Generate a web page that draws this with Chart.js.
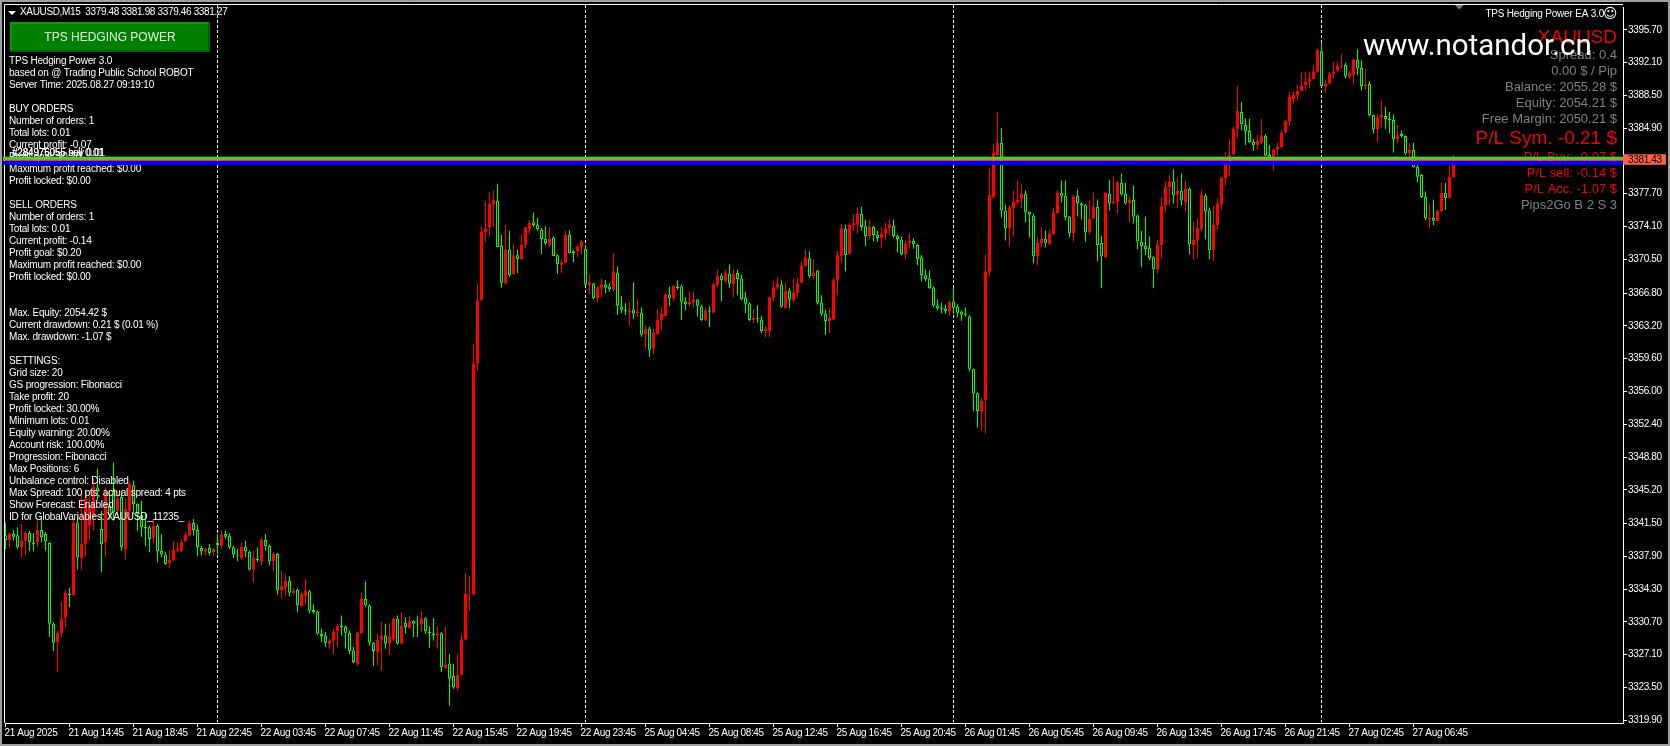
<!DOCTYPE html>
<html>
<head>
<meta charset="utf-8">
<title>XAUUSD,M15</title>
<style>
  html, body { margin: 0; padding: 0; background: #000; overflow: hidden; }
  #wrap { position: relative; width: 1670px; height: 746px; background: #000; }
  #frame { position: absolute; left: 0; top: 0; width: 1666px; height: 742px; border: 2px solid #a0a0a0; pointer-events: none; }
</style>
<script src="https://cdn.jsdelivr.net/npm/chart.js@4/dist/chart.umd.min.js"></script>
</head>
<body>
<div id="wrap">
  <canvas id="chart" width="1670" height="746"></canvas>
  <div id="frame"></div>
</div>
<script>
// Bougies M15, une valeur par barre
const opens = [
  3340.2,3339.7,3340.35,3340.2,3338.9,3339.6,3340.45,3339.4,3339.45,3340.8,
  3340.35,3339.35,3330.5,3328.5,3329.45,3331.15,3333.8,3333.6,3341.6,3337.7,
  3339.25,3341.28,3342.2,3345.45,3340.9,3339.45,3343.47,3345.1,3342.9,3344.4,
  3338.7,3342.9,3345.7,3343.65,3342.45,3341.15,3341.1,3339.9,3341.25,3338.5,
  3338.1,3337.15,3337.45,3338.5,3338.5,3339.55,3340.15,3341.55,3340.8,3338.8,
  3338.4,3338.8,3338.35,3339.35,3339.05,3340.35,3340.15,3338.9,3338.1,3337.7,
  3338.95,3338.4,3336.45,3337.6,3337.35,3339.7,3339.05,3337.35,3338.15,3334.15,
  3334.45,3335.25,3333.85,3334.2,3332.4,3333.5,3334.05,3332.0,3331.85,3329.4,
  3329.2,3328.3,3328.65,3329.7,3330.3,3330.2,3329.5,3327.55,3326.05,3329.45,
  3333.2,3332.5,3328.4,3327.4,3328.75,3329.2,3328.3,3328.75,3331.05,3328.3,
  3330.6,3330.0,3330.8,3330.5,3330.4,3331.1,3329.6,3329.4,3329.2,3329.45,
  3325.6,3326.1,3324.75,3323.4,3324.9,3328.75,3333.65,3333.7,3359.05,3365.98,
  3373.5,3374.05,3376.5,3376.93,3372.04,3367.84,3371.57,3368.9,3370.94,3370.5,
  3372.08,3373.83,3374.56,3374.3,3373.75,3372.77,3372.11,3372.91,3370.94,3369.85,
  3370.1,3373.2,3371.38,3371.38,3371.82,3371.67,3367.66,3367.84,3366.24,3367.26,
  3367.73,3367.51,3367.22,3369.05,3365.32,3365.0,3364.67,3365.0,3364.6,3364.67,
  3362.22,3362.92,3360.69,3362.3,3363.83,3364.27,3366.64,3366.24,3367.48,3367.51,
  3365.91,3365.58,3365.8,3366.09,3365.36,3363.83,3364.89,3364.63,3367.66,3368.72,
  3368.1,3368.94,3367.77,3369.01,3368.39,3366.31,3365.65,3363.83,3364.05,3363.9,
  3362.62,3362.62,3366.27,3367.44,3367.73,3365.14,3367.08,3366.02,3366.82,3367.92,
  3369.74,3370.58,3368.61,3369.27,3365.76,3364.56,3363.72,3363.94,3368.21,3370.83,
  3373.86,3371.05,3374.23,3374.3,3375.5,3374.12,3373.06,3374.08,3373.2,3372.81,
  3373.24,3373.9,3374.19,3373.1,3372.66,3371.05,3372.26,3372.55,3372.11,3370.73,
  3368.75,3368.39,3367.4,3365.43,3365.21,3365.1,3364.81,3365.87,3365.32,3364.77,
  3364.56,3364.23,3358.43,3355.8,3353.75,3355.0,3369.08,3377.29,3381.89,3383.31,
  3375.87,3373.9,3376.09,3376.74,3377.07,3377.69,3375.72,3375.28,3370.83,3372.26,
  3372.77,3372.15,3373.24,3375.54,3377.8,3377.47,3375.21,3373.35,3377.47,3376.63,
  3376.49,3373.46,3374.99,3376.27,3372.33,3370.72,3377.69,3376.63,3376.74,3378.9,
  3377.69,3376.63,3377.04,3375.32,3372.44,3372.0,3371.78,3370.72,3369.41,3372.04,
  3376.41,3378.39,3379.04,3377.58,3378.02,3376.74,3378.24,3372.04,3372.58,3373.79,
  3377.51,3375.87,3371.49,3374.23,3376.52,3379.37,3380.79,3382.0,3384.81,3386.67,
  3385.25,3384.59,3383.39,3383.02,3383.31,3384.04,3381.96,3381.53,3382.55,3382.84,
  3384.41,3385.61,3388.09,3388.46,3388.97,3389.63,3389.99,3390.28,3391.09,3393.35,
  3389.44,3389.77,3390.87,3391.2,3391.63,3391.82,3390.54,3390.76,3392.4,3391.49,
  3389.44,3389.74,3386.34,3384.74,3386.05,3386.23,3385.94,3385.8,3383.68,3384.26,
  3384.04,3382.11,3382.51,3380.65,3379.77,3377.37,3374.88,3375.07,3374.7,3375.76,
  3377.8,3377.22,3379.48
];
const highs = [
  3341.6,3340.5,3340.8,3341.1,3341.45,3340.65,3340.7,3340.45,3341.8,3342.2,
  3340.55,3339.45,3330.7,3329.75,3332.85,3334.2,3334.45,3342.05,3342.35,3345.1,
  3345.1,3344.56,3346.4,3347.5,3342.9,3345.45,3345.11,3348.2,3345.1,3345.1,
  3344.2,3346.2,3346.2,3343.7,3344.0,3342.55,3341.25,3342.0,3341.45,3340.3,
  3338.35,3338.5,3339.55,3339.45,3339.7,3340.55,3341.8,3342.0,3341.35,3339.05,
  3338.8,3339.25,3338.8,3340.35,3340.7,3340.7,3340.45,3339.05,3338.7,3339.45,
  3339.6,3338.5,3338.5,3338.9,3339.9,3340.35,3339.2,3338.35,3338.25,3336.35,
  3335.9,3335.7,3334.45,3334.35,3334.0,3335.4,3334.2,3332.6,3331.95,3329.95,
  3329.6,3328.85,3329.95,3330.5,3331.4,3330.3,3329.75,3327.95,3329.6,3333.95,
  3335.15,3332.6,3328.5,3329.4,3330.7,3330.5,3330.55,3331.2,3331.4,3331.75,
  3331.2,3331.4,3330.85,3331.4,3331.85,3331.2,3330.2,3331.15,3330.2,3329.6,
  3330.15,3327.2,3326.1,3327.15,3329.35,3336.1,3335.7,3361.2,3367.73,3374.12,
  3376.85,3377.84,3378.06,3378.79,3373.2,3374.3,3373.64,3372.22,3371.57,3373.2,
  3374.05,3374.85,3375.65,3375.1,3373.94,3374.12,3374.01,3373.02,3371.02,3370.5,
  3373.64,3373.68,3371.49,3372.04,3372.59,3372.04,3368.83,3367.92,3367.55,3368.39,
  3368.24,3367.88,3371.16,3369.7,3366.46,3365.69,3365.8,3367.99,3366.09,3365.25,
  3363.28,3363.1,3362.92,3365.0,3365.25,3366.82,3367.51,3367.66,3368.21,3367.73,
  3366.35,3367.0,3366.97,3366.13,3365.54,3365.18,3365.36,3367.88,3369.41,3368.97,
  3369.37,3369.92,3369.37,3369.37,3368.83,3366.89,3365.8,3365.0,3365.47,3364.34,
  3363.17,3366.38,3368.1,3368.54,3368.17,3367.95,3367.37,3368.39,3368.54,3370.29,
  3371.57,3371.38,3370.51,3369.3,3366.57,3365.0,3365.11,3368.46,3371.38,3374.37,
  3374.3,3374.45,3375.4,3376.2,3376.3,3374.85,3374.85,3374.19,3373.64,3374.01,
  3374.48,3374.89,3374.85,3373.2,3373.02,3372.66,3373.35,3372.84,3372.19,3370.94,
  3369.37,3369.3,3367.55,3366.09,3365.8,3365.54,3366.0,3367.37,3365.54,3364.88,
  3365.25,3364.37,3358.5,3355.87,3355.32,3371.01,3380.5,3383.13,3386.6,3384.95,
  3376.49,3376.41,3378.02,3379.15,3378.79,3378.06,3375.76,3375.54,3373.02,3374.01,
  3373.68,3373.75,3376.2,3378.02,3379.15,3379.15,3375.28,3377.62,3378.17,3376.74,
  3376.6,3376.96,3377.84,3377.07,3373.09,3377.95,3379.22,3379.59,3379.12,3379.92,
  3378.93,3377.4,3378.6,3375.39,3373.64,3375.21,3373.02,3370.83,3372.69,3377.29,
  3379.04,3379.7,3380.36,3379.48,3379.92,3379.15,3378.39,3374.66,3374.99,3378.17,
  3377.73,3376.2,3376.41,3377.18,3379.59,3382.22,3383.64,3385.06,3389.55,3387.8,
  3385.98,3385.94,3383.72,3384.15,3385.9,3384.26,3383.06,3382.69,3383.28,3384.63,
  3385.76,3388.9,3388.9,3389.63,3390.98,3391.09,3391.16,3391.82,3393.64,3394.37,
  3390.28,3391.09,3392.18,3392.18,3393.02,3392.07,3391.16,3392.55,3393.57,3392.36,
  3391.41,3390.06,3386.38,3386.45,3387.98,3387.25,3386.71,3386.42,3385.28,3384.63,
  3384.08,3383.24,3383.31,3380.87,3379.85,3377.95,3376.67,3377.04,3375.94,3378.9,
  3378.9,3380.8,3381.98
];
const lows = [
  3338.7,3338.9,3339.6,3338.7,3337.8,3338.0,3338.45,3338.45,3338.9,3339.45,
  3338.5,3329.05,3327.5,3325.2,3329.05,3330.15,3332.3,3333.6,3336.45,3336.45,
  3337.85,3339.64,3340.7,3344.0,3336.15,3337.85,3341.93,3341.8,3342.4,3338.5,
  3337.55,3341.8,3342.6,3340.7,3340.05,3339.0,3338.35,3339.3,3337.25,3337.8,
  3337.0,3336.55,3337.35,3338.35,3338.35,3339.45,3340.15,3340.15,3337.9,3338.0,
  3338.0,3338.0,3338.0,3338.1,3338.7,3339.8,3338.7,3337.7,3337.35,3337.5,
  3337.8,3336.35,3335.05,3337.25,3336.9,3338.5,3336.9,3336.25,3333.7,3333.3,
  3333.5,3333.5,3333.7,3331.75,3332.4,3332.6,3331.65,3331.6,3329.3,3328.5,
  3327.95,3327.75,3327.15,3327.95,3329.2,3327.75,3327.15,3326.2,3325.9,3329.4,
  3332.3,3328.1,3325.85,3325.95,3325.3,3327.75,3327.05,3328.6,3328.2,3328.25,
  3329.4,3329.95,3329.05,3329.05,3329.6,3329.4,3327.85,3328.65,3327.75,3325.2,
  3325.55,3321.5,3323.35,3323.2,3324.85,3328.65,3331.9,3333.6,3358.25,3365.98,
  3372.4,3373.0,3374.12,3371.82,3367.37,3367.73,3368.54,3368.83,3369.0,3370.43,
  3371.75,3373.32,3374.05,3373.64,3371.09,3372.04,3371.82,3370.83,3368.9,3369.01,
  3370.07,3371.13,3370.18,3370.73,3371.02,3367.66,3366.64,3366.13,3365.8,3366.35,
  3366.78,3366.93,3367.0,3364.38,3364.6,3364.38,3363.28,3363.94,3364.16,3362.0,
  3360.69,3359.78,3360.11,3362.26,3362.81,3364.23,3365.36,3365.91,3367.15,3363.83,
  3364.92,3365.36,3365.18,3364.23,3363.72,3363.72,3363.06,3364.6,3367.44,3365.91,
  3367.92,3367.37,3366.35,3366.57,3366.02,3364.6,3363.72,3363.43,3363.54,3362.4,
  3361.97,3361.97,3365.91,3367.19,3365.18,3365.11,3365.11,3365.73,3366.27,3367.88,
  3369.7,3368.46,3368.28,3365.54,3364.27,3362.19,3362.4,3363.83,3366.57,3370.1,
  3369.19,3371.02,3373.57,3373.32,3373.64,3371.97,3372.66,3372.48,3372.4,3371.71,
  3372.59,3373.13,3372.91,3371.27,3370.94,3370.51,3371.71,3371.67,3369.85,3368.1,
  3368.1,3367.26,3365.25,3364.92,3364.59,3364.52,3364.26,3364.52,3364.15,3363.72,
  3364.19,3358.24,3353.86,3352.0,3351.67,3351.38,3368.64,3377.2,3381.78,3375.1,
  3372.58,3371.93,3373.02,3376.52,3376.09,3374.55,3372.91,3370.07,3369.85,3371.82,
  3371.82,3372.11,3373.2,3375.5,3376.74,3374.77,3372.91,3372.47,3375.21,3374.88,
  3372.47,3373.24,3374.88,3370.28,3367.33,3370.61,3375.87,3376.6,3375.54,3377.51,
  3376.52,3374.55,3374.44,3371.6,3369.63,3370.94,3370.39,3367.33,3368.97,3370.61,
  3375.76,3376.41,3376.63,3376.09,3376.41,3375.65,3371.05,3370.5,3370.72,3373.57,
  3372.69,3370.5,3370.28,3373.68,3375.98,3378.6,3379.59,3381.89,3383.86,3384.7,
  3383.06,3383.24,3382.4,3382.51,3383.17,3381.78,3381.34,3380.25,3381.78,3382.77,
  3384.3,3385.17,3387.62,3387.98,3388.97,3389.08,3389.26,3390.25,3391.01,3389.44,
  3388.79,3389.74,3390.36,3391.09,3391.45,3390.36,3390.28,3389.74,3390.72,3389.01,
  3389.08,3386.2,3384.3,3383.42,3384.96,3384.81,3384.34,3382.22,3383.24,3383.86,
  3381.96,3381.67,3380.58,3378.97,3377.22,3374.78,3373.94,3374.23,3374.67,3375.69,
  3375.91,3377.18,3379.46
];
const closes = [
  3339.7,3340.35,3340.05,3338.9,3339.6,3340.45,3339.45,3339.25,3340.8,3340.0,
  3339.55,3330.5,3328.4,3329.5,3331.05,3333.9,3333.65,3341.6,3337.8,3339.25,
  3344.2,3343.47,3345.5,3345.1,3339.25,3344.9,3342.37,3342.75,3344.2,3338.9,
  3343.15,3345.85,3343.65,3342.5,3341.1,3340.95,3339.8,3341.25,3338.45,3338.1,
  3337.05,3337.5,3338.6,3338.7,3339.45,3340.3,3341.6,3340.8,3338.9,3338.45,
  3338.7,3338.25,3338.7,3339.15,3340.25,3340.05,3338.9,3338.1,3338.0,3338.95,
  3338.45,3336.45,3337.7,3337.5,3339.75,3339.0,3337.35,3338.15,3334.15,3334.6,
  3335.25,3333.9,3334.15,3332.55,3333.8,3334.15,3331.95,3331.75,3329.4,3329.15,
  3328.4,3328.65,3329.6,3330.3,3330.15,3329.5,3327.5,3326.3,3329.55,3333.25,
  3332.5,3328.4,3327.5,3328.75,3329.2,3328.3,3329.05,3331.05,3328.3,3330.3,
  3330.15,3330.7,3330.5,3330.4,3331.1,3329.65,3329.45,3329.2,3329.45,3325.75,
  3326.05,3324.45,3323.5,3324.9,3328.8,3333.8,3333.7,3359.0,3365.98,3373.57,
  3373.9,3376.6,3377.04,3371.86,3367.92,3371.57,3368.75,3370.94,3370.54,3372.11,
  3374.01,3374.48,3374.26,3373.83,3372.73,3372.3,3372.77,3370.87,3369.99,3370.18,
  3373.2,3371.2,3371.2,3371.93,3372.48,3367.7,3367.99,3366.24,3367.44,3367.77,
  3367.37,3367.22,3369.19,3365.4,3364.96,3364.85,3364.89,3364.52,3364.81,3362.22,
  3362.92,3360.58,3362.48,3363.9,3364.56,3366.67,3366.24,3367.62,3367.33,3365.84,
  3365.58,3365.87,3366.09,3365.4,3363.83,3364.92,3364.74,3367.77,3368.72,3368.21,
  3369.05,3367.81,3368.94,3368.35,3366.13,3365.62,3363.83,3364.05,3363.98,3362.62,
  3362.84,3366.35,3367.44,3367.88,3365.29,3367.08,3366.05,3366.89,3367.88,3369.85,
  3370.73,3368.65,3369.01,3365.73,3364.52,3363.72,3364.05,3368.21,3370.94,3373.9,
  3370.98,3374.3,3374.45,3375.5,3374.05,3373.06,3374.12,3373.17,3372.84,3373.35,
  3373.9,3374.34,3373.06,3372.73,3371.05,3372.26,3372.55,3372.19,3370.51,3368.79,
  3368.35,3367.33,3365.47,3365.14,3365.07,3364.81,3365.8,3365.18,3364.63,3364.41,
  3364.41,3358.5,3355.76,3353.86,3354.96,3369.19,3377.58,3382.22,3383.31,3375.87,
  3373.9,3376.2,3376.85,3377.07,3377.73,3375.65,3375.43,3370.83,3372.36,3372.8,
  3372.26,3373.35,3375.65,3377.84,3377.4,3375.14,3373.35,3377.4,3376.67,3376.41,
  3373.46,3374.99,3376.31,3372.07,3370.83,3377.84,3376.63,3376.85,3378.93,3377.62,
  3376.63,3377.07,3375.21,3372.47,3371.93,3371.6,3370.61,3369.41,3372.11,3376.38,
  3378.5,3379.04,3377.51,3378.06,3376.96,3378.24,3372.15,3372.69,3373.9,3377.62,
  3375.76,3371.49,3374.33,3376.63,3379.48,3380.87,3381.96,3384.84,3386.81,3385.32,
  3384.52,3383.35,3383.02,3383.5,3384.08,3381.89,3381.53,3382.55,3382.84,3384.41,
  3385.72,3388.35,3388.57,3389.01,3389.55,3390.06,3390.32,3391.16,3393.49,3389.52,
  3389.77,3390.87,3391.16,3391.74,3391.74,3390.58,3390.98,3392.44,3391.45,3389.52,
  3389.7,3386.31,3384.77,3386.09,3386.34,3385.9,3385.76,3383.68,3384.15,3384.01,
  3382.11,3382.55,3380.61,3379.56,3377.33,3375.0,3375.1,3374.74,3375.83,3377.8,
  3377.22,3379.59,3381.27
];

// Axes
const timeLabels = [
  '21 Aug 2025','21 Aug 14:45','21 Aug 18:45','21 Aug 22:45','22 Aug 03:45','22 Aug 07:45',
  '22 Aug 11:45','22 Aug 15:45','22 Aug 19:45','22 Aug 23:45','25 Aug 04:45','25 Aug 08:45',
  '25 Aug 12:45','25 Aug 16:45','25 Aug 20:45','26 Aug 01:45','26 Aug 05:45','26 Aug 09:45',
  '26 Aug 13:45','26 Aug 17:45','26 Aug 21:45','27 Aug 02:45','27 Aug 06:45'
];
const timeTickBars = [0,16,32,48,64,80,96,112,128,144,160,176,192,208,224,240,256,272,288,304,320,336,352];
const priceTicks = [
  3395.70,3392.10,3388.50,3384.90,3377.70,3374.10,3370.50,3366.80,3363.20,3359.60,3356.00,
  3352.40,3348.80,3345.20,3341.50,3337.90,3334.30,3330.70,3327.10,3323.50,3319.90
];
const daySeparators = [53,145,237,329];

// Lignes d'ordres et prix courant
const buyLinePrice = 3381.61;
const bidPrice = 3381.43;
const sellLinePrice = 3381.07;

// Textes de l'EA
const panelLines = [
  'TPS Hedging Power 3.0','based on @ Trading Public School ROBOT','Server Time: 2025.08.27 09:19:10','',
  'BUY ORDERS','Number of orders: 1','Total lots: 0.01','Current profit: -0.07','Profit goal: $0.20',
  'Maximum profit reached: $0.00','Profit locked: $0.00','',
  'SELL ORDERS','Number of orders: 1','Total lots: 0.01','Current profit: -0.14','Profit goal: $0.20',
  'Maximum profit reached: $0.00','Profit locked: $0.00','','',
  'Max. Equity: 2054.42 $','Current drawdown: 0.21 $ (0.01 %)','Max. drawdown: -1.07 $','',
  'SETTINGS:','Grid size: 20','GS progression: Fibonacci','Take profit: 20','Profit locked: 30.00%',
  'Minimum lots: 0.01','Equity warning: 20.00%','Account risk: 100.00%','Progression: Fibonacci',
  'Max Positions: 6','Unbalance control: Disabled','Max Spread: 100 pts; actual spread: 4 pts',
  'Show Forecast: Enabled','ID for GlobalVariables: XAUUSD_11235_'
];
const rightLines = [
  { text: 'Spread: 0.4', y: 55, size: 13, color: '#808080' },
  { text: '0.00 $ / Pip', y: 71, size: 13, color: '#808080' },
  { text: 'Balance: 2055.28 $', y: 87, size: 13, color: '#808080' },
  { text: 'Equity: 2054.21 $', y: 103, size: 13, color: '#808080' },
  { text: 'Free Margin: 2050.21 $', y: 119, size: 13, color: '#808080' },
  { text: 'P/L Sym. -0.21 $', y: 138.5, size: 19, color: '#f00000' },
  { text: 'P/L Buy: -0.07 $', y: 157, size: 13, color: '#f00000' },
  { text: 'P/L sell: -0.14 $', y: 173, size: 13, color: '#f00000' },
  { text: 'P/L Acc. -1.07 $', y: 189, size: 13, color: '#f00000' },
  { text: 'Pips2Go B 2 S 3', y: 205, size: 13, color: '#808080' }
];

const UP = '#ff0000';
const DOWN = '#00ff00';
const FONT = '"Liberation Sans"';
const tight = '-0.35px';
const panelSpacing = '-0.2px';

const barColor = opens.map((o, i) => closes[i] >= o ? UP : DOWN);
const xMin = -0.125;
const xMax = 404.375;

// Tout ce qui n'est pas une bougie : cadre, séparateurs, panneau, étiquette de prix
const mtPlugin = {
  id: 'mt4',
  beforeDraw(chart) {
    chart.ctx.letterSpacing = tight;
  },
  beforeDatasetsDraw(chart) {
    const { ctx, chartArea, scales } = chart;
    ctx.save();
    ctx.strokeStyle = '#fff';
    ctx.lineWidth = 1;
    ctx.beginPath();
    ctx.moveTo(4.5, chartArea.bottom);
    ctx.lineTo(4.5, 4.5);
    ctx.lineTo(chartArea.right, 4.5);
    ctx.stroke();
    ctx.setLineDash([3, 2]);
    daySeparators.forEach(bar => {
      const x = Math.floor(scales.x.getPixelForValue(bar)) + 0.5;
      ctx.beginPath();
      ctx.moveTo(x, 5);
      ctx.lineTo(x, 722);
      ctx.stroke();
    });
    ctx.restore();
  },
  afterDatasetDraw(chart, args) {
    // les lignes d'ordres passent au-dessus des textes
    if (args.index !== 1) return;
    const ctx = chart.ctx;
    ctx.save();
    ctx.textBaseline = 'middle';
    ctx.fillStyle = '#fff';
    ctx.font = '10px ' + FONT;
    ctx.letterSpacing = tight;
    ctx.fillText('XAUUSD,M15  3379.48 3381.98 3379.46 3381.27', 20, 12.5);
    ctx.beginPath();
    ctx.moveTo(8, 11);
    ctx.lineTo(16, 11);
    ctx.lineTo(12, 15);
    ctx.fill();

    // bouton
    ctx.fillStyle = '#008000';
    ctx.fillRect(10, 22, 200, 30);
    ctx.fillStyle = '#0a9a0a';
    ctx.fillRect(10, 22, 200, 2);
    ctx.fillRect(10, 22, 2, 30);
    ctx.fillStyle = '#006400';
    ctx.fillRect(10, 50, 200, 2);
    ctx.fillRect(208, 22, 2, 30);
    ctx.fillStyle = '#e6f5e6';
    ctx.font = '12px ' + FONT;
    ctx.letterSpacing = '0px';
    ctx.textAlign = 'center';
    ctx.fillText('TPS HEDGING POWER', 110, 37.5);

    ctx.textAlign = 'left';
    ctx.fillStyle = '#fff';
    ctx.font = '10px ' + FONT;
    ctx.letterSpacing = panelSpacing;
    panelLines.forEach((line, k) => {
      if (line) ctx.fillText(line, 9, 61.7 + 12 * k);
    });
    ctx.fillText('#284975055 buy 0.01', 12, 153);
    ctx.fillText('#284976055 sell 0.01', 12, 153);

    ctx.textAlign = 'right';
    ctx.fillText('TPS Hedging Power EA 3.0', 1604, 14);
    ctx.font = '14px "DejaVu Sans"';
    ctx.letterSpacing = '0px';
    ctx.fillText('\u263A', 1617.5, 14);

    ctx.fillStyle = '#f00000';
    ctx.font = '19px ' + FONT;
    ctx.fillText('XAUUSD', 1617, 38);
    rightLines.forEach(l => {
      ctx.fillStyle = l.color;
      ctx.font = l.size + 'px ' + FONT;
      ctx.fillText(l.text, 1617, l.y);
    });

    ctx.textAlign = 'left';
    ctx.textBaseline = 'alphabetic';
    ctx.fillStyle = '#fff';
    ctx.font = '29.5px Roboto';
    ctx.fillText('www.notandor.cn', 1363, 55);

    // petit triangle du décalage de graphique
    ctx.fillStyle = '#708090';
    ctx.beginPath();
    ctx.moveTo(1455, 5);
    ctx.lineTo(1463.5, 5);
    ctx.lineTo(1459.2, 9.5);
    ctx.fill();
    ctx.restore();
  },
  afterDraw(chart) {
    const { ctx, scales, chartArea } = chart;
    const y = scales.y.getPixelForValue(bidPrice);
    ctx.save();
    ctx.fillStyle = '#ff6347';
    ctx.fillRect(chartArea.right, y - 5.5, 43, 10.5);
    ctx.fillStyle = '#000';
    ctx.font = '10px ' + FONT;
    ctx.letterSpacing = tight;
    ctx.textBaseline = 'middle';
    ctx.fillText(bidPrice.toFixed(2), 1628, y);
    ctx.restore();
  }
};

const levelLine = (price, color, width, order) => ({
  type: 'line',
  data: [{ x: -0.625, y: price }, { x: xMax, y: price }],
  borderColor: color,
  borderWidth: width,
  pointRadius: 0,
  clip: false,
  order: order
});

new Chart(document.getElementById('chart'), {
  type: 'bar',
  data: {
    datasets: [
      {
        // mèches
        data: opens.map((o, i) => ({ x: i, y: [lows[i], highs[i]] })),
        backgroundColor: barColor,
        barThickness: 1,
        grouped: false,
        inflateAmount: 0,
        borderWidth: 0,
        order: 4
      },
      {
        // corps : plein en hausse, creux en baisse
        data: opens.map((o, i) => ({ x: i, y: [o, closes[i]] })),
        backgroundColor: barColor.map(c => c === UP ? UP : '#000'),
        borderColor: barColor,
        borderWidth: 1,
        borderSkipped: false,
        barThickness: 3,
        grouped: false,
        inflateAmount: 0,
        order: 3
      },
      levelLine(buyLinePrice, '#00ff00', 3, 2),
      levelLine(bidPrice, '#ff6347', 2, 1),
      levelLine(sellLinePrice, '#0000ff', 4, 0)
    ]
  },
  options: {
    responsive: false,
    animation: false,
    events: [],
    layout: { padding: { left: 5, top: 5, right: 0, bottom: 0 } },
    plugins: { legend: { display: false }, tooltip: { enabled: false } },
    scales: {
      x: {
        type: 'linear',
        offset: false,
        min: xMin,
        max: xMax,
        afterBuildTicks(scale) { scale.ticks = timeTickBars.map(v => ({ value: v })); },
        afterFit(scale) { scale.height = 23; },
        grid: { offset: false, drawOnChartArea: false, color: '#fff', tickLength: 4 },
        border: { color: '#fff' },
        ticks: {
          color: '#fff',
          font: { family: FONT, size: 10 },
          autoSkip: false,
          maxRotation: 0,
          align: 'start',
          labelOffset: -1,
          padding: 0,
          callback: (v, idx) => timeLabels[idx]
        }
      },
      y: {
        position: 'right',
        min: 3319.6,
        max: 3398.2,
        afterBuildTicks(scale) { scale.ticks = priceTicks.map(v => ({ value: v })); },
        afterFit(scale) { scale.width = 47; },
        grid: { drawOnChartArea: false, color: '#fff', tickLength: 4 },
        border: { color: '#fff' },
        ticks: {
          color: '#fff',
          font: { family: FONT, size: 10 },
          autoSkip: false,
          padding: 1,
          callback: v => v.toFixed(2)
        }
      }
    }
  },
  plugins: [mtPlugin]
});
</script>
</body>
</html>
